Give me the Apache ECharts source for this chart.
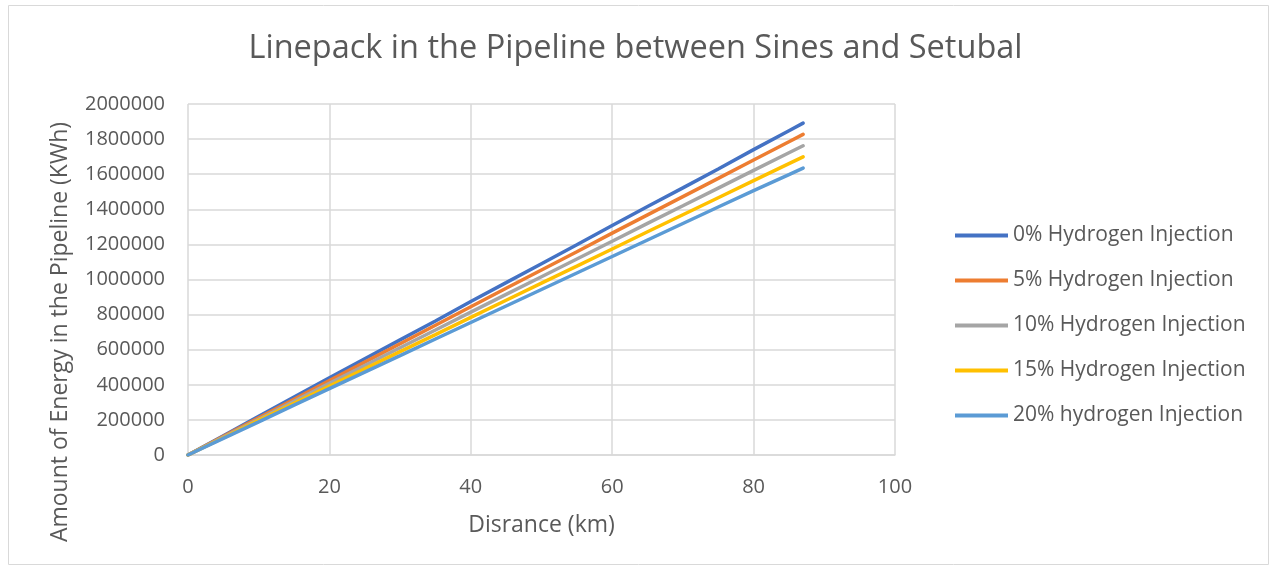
<!DOCTYPE html>
<html><head><meta charset="utf-8">
<script src="https://cdn.jsdelivr.net/npm/echarts@6/dist/echarts.min.js"></script>
<style>html,body{margin:0;padding:0;background:#fff}#c{width:1271px;height:569px}</style>
</head><body><div id="c"></div>
<script>
const distance = [0,5,10,15,20,25,30,35,40,45,50,55,60,65,70,75,80,85,87];
const h0  = [0,110000,220000,330000,440000,548000,656000,764000,875000,982000,1090000,1198000,1308000,1416000,1522000,1630000,1740000,1848000,1891000];
const h5  = [0,106000,212000,318000,424000,529000,634000,739000,845000,950000,1054000,1158000,1264000,1368000,1472000,1576000,1681000,1785000,1827000];
const h10 = [0,102000,204000,306000,408000,510000,611000,712000,814000,915000,1016000,1117000,1218000,1320000,1420000,1521000,1622000,1722000,1762000];
const h15 = [0,98000,197000,295000,393000,491000,589000,686000,784000,882000,979000,1076000,1174000,1272000,1369000,1466000,1563000,1660000,1699000];
const h20 = [0,95000,189000,284000,378000,472000,566000,661000,755000,849000,943000,1037000,1131000,1225000,1319000,1413000,1506000,1598000,1635000];
const seriesNames = ['0% Hydrogen Injection','5% Hydrogen Injection','10% Hydrogen Injection','15% Hydrogen Injection','20% hydrogen Injection'];
const seriesData = [h0,h5,h10,h15,h20];
const colors = ['#4472C4','#ED7D31','#A5A5A5','#FFC000','#5B9BD5'];
const yAxisTitle = 'Amount of Energy in the Pipeline (KWh)';

const chart = echarts.init(document.getElementById('c'));
const font = '"Open Sans", "Noto Sans", sans-serif';
chart.setOption({
  animation:false,
  textStyle:{fontFamily:font},
  graphic:[
    {type:'rect',shape:{x:8.5,y:5.5,width:1260,height:559},style:{fill:'none',stroke:'#d9d9d9',lineWidth:1},silent:true},
    {type:'text',x:60,y:332,rotation:Math.PI/2,
      style:{text:yAxisTitle,fill:'#595959',font:'23px "Open Sans", sans-serif',textAlign:'center',textVerticalAlign:'middle'}}
  ],
  title:{text:'Linepack in the Pipeline between Sines and Setubal',left:'center',top:27,
    textStyle:{fontFamily:font,fontSize:32.5,fontWeight:'normal',color:'#595959'}},
  legend:{orient:'vertical',left:950,top:220,itemWidth:53,itemHeight:4,itemGap:24,icon:'rect',
    textStyle:{fontSize:21,color:'#595959',fontFamily:font},data:seriesNames},
  grid:{left:188,right:376,top:104,bottom:114,containLabel:false},
  xAxis:{type:'value',min:0,max:100,interval:20,
    name:'Disrance (km)',nameLocation:'middle',nameGap:59,
    nameTextStyle:{fontSize:23,color:'#595959'},
    axisLine:{show:true,lineStyle:{color:'#d9d9d9',width:1.5}},
    axisTick:{show:false},
    axisLabel:{fontSize:20,color:'#595959',margin:22},
    splitLine:{show:true,lineStyle:{color:'#d9d9d9',width:1.5}}},
  yAxis:{type:'value',min:0,max:2000000,interval:200000,
    axisLine:{show:false},axisTick:{show:false},
    axisLabel:{fontSize:20,color:'#595959',margin:23,formatter:v=>String(v)},
    splitLine:{show:true,lineStyle:{color:'#d9d9d9',width:1.5}}},
  series: seriesNames.map((n,i)=>({
    name:n,type:'line',showSymbol:false,symbol:'none',
    data: distance.map((d,j)=>[d,seriesData[i][j]]),
    lineStyle:{color:colors[i],width:3.5,cap:'round'},
    itemStyle:{color:colors[i]}
  }))
});
</script></body></html>
